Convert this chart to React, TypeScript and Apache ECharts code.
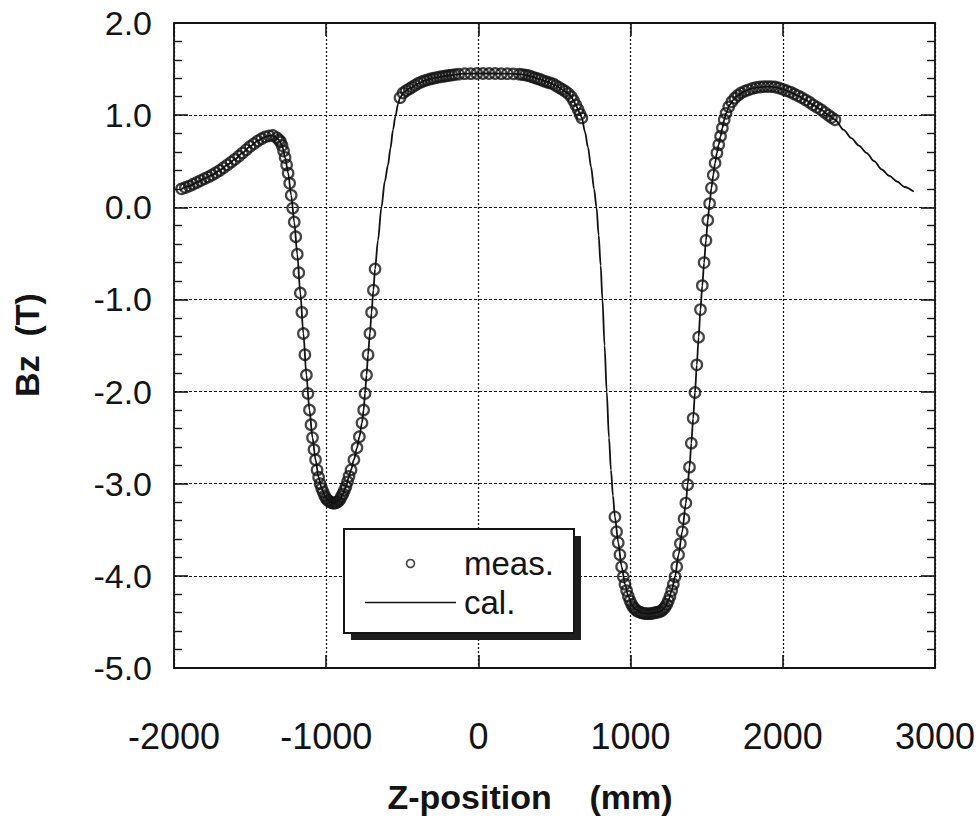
import React, { useEffect, useRef } from 'react';
import * as echarts from 'echarts';

const xTicks = [-2000, -1000, 0, 1000, 2000, 3000];
const yTicks = [2.0, 1.0, 0.0, -1.0, -2.0, -3.0, -4.0, -5.0];
const legendLabels = ['meas.', 'cal.'];
const xTitle = 'Z-position    (mm)';
const yTitle = 'Bz  (T)';

// measured field (open circles), [z mm, Bz T]
const measuredLeft: [number, number][] = [
  [-1950, 0.2], [-1925, 0.215], [-1900, 0.23], [-1875, 0.25], [-1850, 0.27], [-1825, 0.29],
  [-1800, 0.31], [-1775, 0.33], [-1750, 0.35], [-1725, 0.375], [-1700, 0.4], [-1675, 0.43],
  [-1650, 0.46], [-1625, 0.49], [-1600, 0.52], [-1575, 0.555], [-1550, 0.59], [-1525, 0.625],
  [-1500, 0.66], [-1475, 0.69], [-1450, 0.72], [-1425, 0.745], [-1400, 0.765], [-1375, 0.775],
  [-1350, 0.78], [-1325, 0.755], [-1310, 0.73], [-1300, 0.71], [-1290, 0.67], [-1280, 0.61],
  [-1270, 0.54], [-1260, 0.46], [-1250, 0.37], [-1240, 0.26], [-1230, 0.13], [-1220, -0.01],
  [-1210, -0.16], [-1200, -0.32], [-1190, -0.51], [-1180, -0.71], [-1170, -0.93], [-1160, -1.14],
  [-1150, -1.37], [-1140, -1.6], [-1130, -1.82], [-1120, -2.02], [-1110, -2.2], [-1100, -2.36],
  [-1090, -2.5], [-1080, -2.63], [-1070, -2.74], [-1060, -2.85], [-1050, -2.93], [-1040, -3.0],
  [-1030, -3.05], [-1020, -3.09], [-1010, -3.13], [-1000, -3.16], [-990, -3.18], [-980, -3.19],
  [-970, -3.2], [-960, -3.21], [-950, -3.21], [-940, -3.21], [-930, -3.2], [-920, -3.19],
  [-910, -3.17], [-900, -3.14], [-890, -3.11], [-880, -3.07], [-870, -3.03], [-860, -2.98],
  [-850, -2.92], [-837, -2.85], [-818, -2.74], [-798, -2.61], [-782, -2.49], [-765, -2.34],
  [-754, -2.2], [-745, -2.02], [-735, -1.82], [-725, -1.6], [-713, -1.37], [-702, -1.14],
  [-690, -0.9], [-679, -0.67],
];

const measuredMiddle: [number, number][] = [
  [-515, 1.19], [-495, 1.24], [-475, 1.265], [-455, 1.285], [-435, 1.305], [-415, 1.325],
  [-395, 1.345], [-375, 1.36], [-355, 1.372], [-335, 1.383], [-315, 1.393], [-295, 1.4],
  [-275, 1.408], [-255, 1.415], [-235, 1.42], [-215, 1.425], [-195, 1.43], [-175, 1.435],
  [-155, 1.44], [-130, 1.445], [-90, 1.45], [-50, 1.45], [-10, 1.452], [30, 1.452],
  [70, 1.452], [110, 1.452], [150, 1.45], [190, 1.45], [230, 1.448], [270, 1.445],
  [290, 1.44], [310, 1.435], [330, 1.428], [350, 1.418], [370, 1.405], [390, 1.395],
  [410, 1.385], [430, 1.37], [450, 1.36], [470, 1.35], [490, 1.34], [510, 1.32],
  [530, 1.3], [550, 1.28], [570, 1.26], [590, 1.235], [610, 1.2], [625, 1.16],
  [640, 1.11], [655, 1.06], [668, 1.01], [680, 0.97],
];

const measuredRight: [number, number][] = [
  [897, -3.36], [908, -3.52], [919, -3.64], [930, -3.77], [941, -3.9], [952, -4.01],
  [963, -4.09], [974, -4.16], [985, -4.22], [996, -4.27], [1007, -4.31], [1018, -4.34],
  [1029, -4.36], [1040, -4.38], [1055, -4.39], [1070, -4.4], [1085, -4.405], [1100, -4.41],
  [1115, -4.41], [1130, -4.41], [1145, -4.405], [1160, -4.4], [1175, -4.395], [1190, -4.39],
  [1204, -4.38], [1215, -4.36], [1226, -4.34], [1237, -4.31], [1248, -4.27], [1259, -4.22],
  [1270, -4.16], [1281, -4.09], [1292, -4.01], [1303, -3.9], [1315, -3.77], [1327, -3.65],
  [1339, -3.52], [1351, -3.38], [1363, -3.21], [1375, -3.01], [1387, -2.82], [1399, -2.56],
  [1411, -2.29], [1423, -2.01], [1435, -1.71], [1447, -1.41], [1459, -1.11], [1471, -0.85],
  [1483, -0.6], [1495, -0.36], [1507, -0.14], [1519, 0.04], [1531, 0.21], [1543, 0.35],
  [1555, 0.48], [1567, 0.59], [1579, 0.68], [1591, 0.77], [1603, 0.86], [1615, 0.95],
  [1627, 1.02], [1645, 1.09], [1665, 1.145], [1685, 1.185], [1705, 1.215], [1725, 1.24],
  [1750, 1.26], [1775, 1.275], [1800, 1.29], [1825, 1.3], [1850, 1.305], [1875, 1.31],
  [1900, 1.31], [1925, 1.31], [1950, 1.305], [1975, 1.295], [2000, 1.28], [2025, 1.265],
  [2050, 1.25], [2075, 1.23], [2100, 1.21], [2125, 1.19], [2150, 1.165], [2175, 1.14],
  [2200, 1.11], [2225, 1.085], [2250, 1.06], [2275, 1.03], [2300, 1.0], [2320, 0.975],
  [2343, 0.95],
];

// calculated field (solid line), [z mm, Bz T]
const calculated: [number, number][] = [
  [-1950, 0.2], [-1900, 0.23], [-1850, 0.27], [-1800, 0.31], [-1750, 0.35], [-1700, 0.4],
  [-1650, 0.46], [-1600, 0.52], [-1550, 0.59], [-1500, 0.66], [-1450, 0.72], [-1420, 0.75],
  [-1390, 0.77], [-1360, 0.78], [-1330, 0.76], [-1310, 0.73], [-1290, 0.67], [-1270, 0.54],
  [-1250, 0.37], [-1230, 0.13], [-1210, -0.16], [-1190, -0.51], [-1170, -0.93], [-1150, -1.37],
  [-1130, -1.82], [-1110, -2.2], [-1090, -2.5], [-1070, -2.74], [-1050, -2.93], [-1030, -3.05],
  [-1010, -3.13], [-990, -3.18], [-970, -3.2], [-950, -3.21], [-930, -3.2], [-910, -3.17],
  [-890, -3.11], [-870, -3.03], [-850, -2.92], [-837, -2.85], [-818, -2.74], [-798, -2.61],
  [-782, -2.49], [-765, -2.34], [-754, -2.2], [-745, -2.02], [-735, -1.82], [-725, -1.6],
  [-713, -1.37], [-702, -1.14], [-690, -0.9], [-679, -0.67], [-660, -0.36], [-637, 0.0],
  [-615, 0.28], [-594, 0.46], [-578, 0.64], [-561, 0.84], [-545, 0.99], [-528, 1.12],
  [-515, 1.19], [-490, 1.25], [-450, 1.29], [-400, 1.34], [-350, 1.375], [-300, 1.4],
  [-250, 1.415], [-200, 1.43], [-150, 1.44], [-100, 1.45], [0, 1.452], [100, 1.452],
  [200, 1.45], [270, 1.445], [300, 1.44], [350, 1.418], [400, 1.39], [450, 1.36],
  [500, 1.33], [550, 1.28], [590, 1.235], [610, 1.2], [625, 1.16], [640, 1.11],
  [655, 1.06], [668, 1.01], [680, 0.97], [700, 0.82], [720, 0.65], [740, 0.44],
  [760, 0.2], [776, 0.0], [790, -0.3], [803, -0.63], [815, -1.0], [829, -1.5],
  [843, -2.0], [858, -2.5], [871, -2.85], [884, -3.13], [897, -3.36], [919, -3.64],
  [941, -3.9], [963, -4.09], [985, -4.22], [1007, -4.31], [1029, -4.36], [1055, -4.39],
  [1085, -4.405], [1115, -4.41], [1145, -4.405], [1175, -4.395], [1204, -4.38], [1226, -4.34],
  [1248, -4.27], [1270, -4.16], [1292, -4.01], [1315, -3.77], [1339, -3.52], [1363, -3.21],
  [1375, -3.01], [1387, -2.82], [1399, -2.56], [1411, -2.29], [1423, -2.01], [1435, -1.71],
  [1447, -1.41], [1459, -1.11], [1471, -0.85], [1483, -0.6], [1495, -0.36], [1507, -0.14],
  [1519, 0.04], [1531, 0.21], [1543, 0.35], [1555, 0.48], [1567, 0.59], [1579, 0.68],
  [1591, 0.77], [1603, 0.86], [1615, 0.95], [1627, 1.02], [1650, 1.11], [1675, 1.165],
  [1700, 1.21], [1750, 1.26], [1800, 1.29], [1850, 1.305], [1900, 1.31], [1950, 1.305],
  [2000, 1.28], [2050, 1.25], [2100, 1.21], [2150, 1.165], [2200, 1.11], [2250, 1.06],
  [2300, 1.0], [2343, 0.95], [2400, 0.84], [2450, 0.75], [2500, 0.67], [2550, 0.59],
  [2600, 0.5], [2650, 0.41], [2700, 0.34], [2750, 0.28], [2800, 0.22], [2860, 0.17],
];

const FONT = '"Liberation Sans", Arial, Helvetica, sans-serif';
const INK = '#141414';

export default function App() {
  const ref = useRef<HTMLDivElement>(null);

  useEffect(() => {
    if (!ref.current) return;
    const chart = echarts.init(ref.current, undefined, { renderer: 'svg' });

    const xMin = xTicks[0];
    const xMax = xTicks[xTicks.length - 1];
    const xStep = xTicks[1] - xTicks[0];
    const yMax = yTicks[0];
    const yMin = yTicks[yTicks.length - 1];
    const yStep = yTicks[0] - yTicks[1];

    const measured = [...measuredLeft, ...measuredMiddle, ...measuredRight];

    const baseX = {
      type: 'value' as const,
      min: xMin,
      max: xMax,
      interval: xStep,
      axisLine: { show: true, onZero: false, lineStyle: { color: INK, width: 1.8 } },
      axisTick: { show: true, inside: true, length: 13, lineStyle: { color: INK, width: 1.6 } },
    };
    const baseY = {
      type: 'value' as const,
      min: yMin,
      max: yMax,
      interval: yStep,
      axisLine: { show: true, onZero: false, lineStyle: { color: INK, width: 1.8 } },
      axisTick: { show: true, inside: true, length: 14, lineStyle: { color: INK, width: 1.6 } },
      minorTick: { show: true, splitNumber: 5, length: 8, lineStyle: { color: INK, width: 1.4 } },
    };

    const option: any = {
      animation: false,
      backgroundColor: '#ffffff',
      grid: { left: 174, top: 23, width: 761, height: 645, containLabel: false },
      xAxis: [
        {
          ...baseX,
          position: 'bottom',
          axisLabel: {
            show: true,
            margin: 50,
            fontSize: 36,
            fontFamily: FONT,
            color: INK,
            formatter: (v: number) => String(v),
          },
          splitLine: { show: true, lineStyle: { color: '#111', width: 1.2, type: [2, 2] } },
        },
        {
          ...baseX,
          position: 'top',
          axisLabel: { show: false },
          splitLine: { show: false },
        },
      ],
      yAxis: [
        {
          ...baseY,
          position: 'left',
          axisLabel: {
            show: true,
            margin: 22,
            fontSize: 34,
            fontFamily: FONT,
            color: INK,
            padding: [8, 0, 0, 0],
            formatter: (v: number) => v.toFixed(1),
          },
          splitLine: { show: true, lineStyle: { color: '#111', width: 1.2, type: [3, 2] } },
          minorSplitLine: { show: false },
        },
        {
          ...baseY,
          position: 'right',
          axisLabel: { show: false },
          splitLine: { show: false },
        },
      ],
      legend: {
        data: [
          { name: legendLabels[0] },
          { name: legendLabels[1], icon: 'path://M0,0L60,0L60,1L0,1Z', itemStyle: { color: '#111', borderWidth: 0 } },
        ],
        orient: 'vertical',
        left: 360,
        top: 542,
        itemWidth: 91,
        itemHeight: 8,
        itemGap: 6,
        selectedMode: false,
        z: 120,
        itemStyle: { borderWidth: 1.6 },
        textStyle: { fontSize: 33, fontFamily: FONT, color: INK, padding: [0, 0, 0, 3] },
      },
      graphic: [
        {
          type: 'rect',
          z: 100,
          shape: { x: 351, y: 536, width: 230, height: 104 },
          style: { fill: '#1e1e1e' },
          silent: true,
        },
        {
          type: 'rect',
          z: 101,
          shape: { x: 344, y: 529, width: 230, height: 104 },
          style: { fill: '#ffffff', stroke: INK, lineWidth: 2 },
          silent: true,
        },
        {
          type: 'text',
          z: 50,
          x: 530,
          y: 797,
          style: {
            text: xTitle,
            fontSize: 34,
            fontWeight: 'bold',
            fontFamily: FONT,
            fill: INK,
            align: 'center',
            verticalAlign: 'middle',
          },
        },
        {
          type: 'text',
          z: 50,
          x: 27,
          y: 345,
          rotation: Math.PI / 2,
          style: {
            text: yTitle,
            fontSize: 34,
            fontWeight: 'bold',
            fontFamily: FONT,
            fill: INK,
            align: 'center',
            verticalAlign: 'middle',
          },
        },
      ],
      series: [
        {
          name: legendLabels[0],
          type: 'scatter',
          xAxisIndex: 0,
          yAxisIndex: 0,
          data: measured,
          symbol: 'circle',
          symbolSize: 10.5,
          z: 2,
          itemStyle: { color: 'rgba(255,255,255,0)', borderColor: '#151515', borderWidth: 2.2 },
        },
        {
          name: legendLabels[1],
          type: 'line',
          xAxisIndex: 0,
          yAxisIndex: 0,
          data: calculated,
          symbol: 'none',
          showSymbol: false,
          smooth: 0.3,
          smoothMonotone: 'x',
          z: 3,
          lineStyle: { color: '#111', width: 1.8 },
        },
      ],
    };

    chart.setOption(option);
    return () => chart.dispose();
  }, []);

  return (
    <div
      ref={ref}
      style={{ position: 'fixed', left: 0, top: 0, width: 979, height: 818, background: '#fff' }}
    />
  );
}
